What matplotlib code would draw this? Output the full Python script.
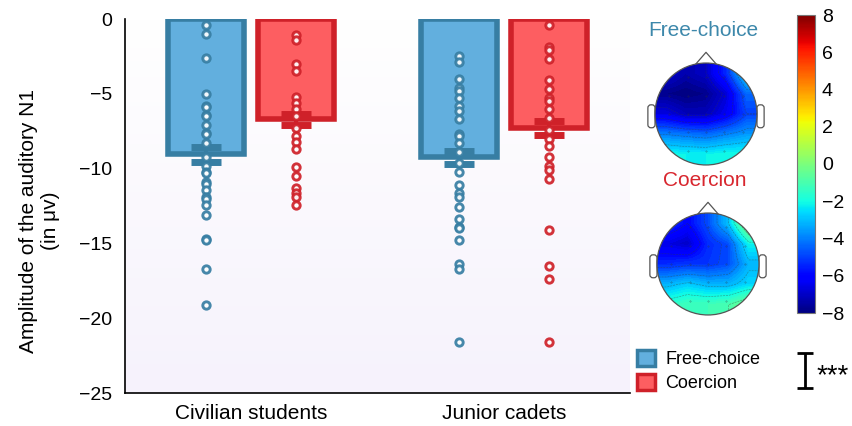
import numpy as np
import matplotlib
matplotlib.use("Agg")
import matplotlib.pyplot as plt
from matplotlib.patches import Rectangle, Circle, FancyBboxPatch
from matplotlib.lines import Line2D
from matplotlib.colors import LinearSegmentedColormap, Normalize
from matplotlib.cm import ScalarMappable

plt.rcParams['font.family'] = ['Liberation Sans', 'DejaVu Sans']

# ---- data -------------------------------------------------------------
groups = ["Civilian students", "Junior cadets"]
conditions = ["Free-choice", "Coercion"]

mean_free = [-9.05, -9.25]
mean_coercion = [-6.7, -7.3]
sem_free = [0.5, 0.45]
sem_coercion = [0.38, 0.48]

civ_free = [-0.4, -1.0, -2.6, -5.0, -5.8, -5.9, -6.4, -6.5, -7.1, -7.6, -7.7,
            -8.3, -9.2, -9.8, -10.2, -10.3, -10.9, -11.0, -11.4, -11.9, -12.05,
            -12.4, -13.1, -14.7, -14.8, -16.7, -19.1]
civ_coercion = [-1.1, -1.4, -3.0, -3.5, -5.2, -5.6, -6.0, -6.5, -7.3, -7.8,
                -8.2, -8.7, -9.9, -10.5, -11.3, -11.6, -11.9, -12.4]
jun_free = [-2.5, -2.9, -4.0, -4.6, -4.8, -5.3, -5.8, -6.15, -6.7, -7.7, -7.8,
            -8.3, -8.9, -9.6, -10.2, -11.1, -11.6, -11.9, -12.6, -13.4, -13.9,
            -14.0, -14.8, -16.4, -16.7, -21.6]
jun_coercion = [-0.4, -1.9, -2.1, -2.7, -4.1, -4.7, -5.3, -5.5, -6.0, -6.6,
                -7.4, -8.05, -8.5, -9.2, -9.8, -10.1, -10.7, -14.1, -16.5,
                -17.4, -21.6]

y_ticks = [0, -5, -10, -15, -20, -25]
cbar_ticks = [8, 6, 4, 2, 0, -2, -4, -6, -8]

# Scalp maps: estimated amplitudes on a 5x5 electrode grid
# rows from front (top) to back, columns left to right
elec_pos = [-0.8, -0.4, 0.0, 0.4, 0.8]
scalp_free = [[-6.8, -7.4, -7.0, -5.4, -2.4],
              [-7.8, -8.0, -7.8, -6.8, -4.4],
              [-6.6, -7.2, -7.2, -6.4, -5.0],
              [-4.0, -4.2, -4.4, -4.0, -3.6],
              [-2.0, -2.2, -2.2, -2.0, -2.0]]
scalp_coercion = [[-5.2, -6.0, -4.8, -3.0, 0.6],
                  [-6.6, -7.0, -5.4, -4.8, -2.2],
                  [-5.4, -5.2, -5.2, -4.8, -3.2],
                  [-3.2, -2.8, -3.2, -3.2, -2.6],
                  [-1.6, -1.2, -1.2, -1.0, -0.2]]

# ---- colours ----------------------------------------------------------
free_face, free_edge = "#62afde", "#377ea3"
coer_face, coer_edge = "#fd5e61", "#cf2129"

W, H = 853, 426
fig = plt.figure(figsize=(W / 100, H / 100), dpi=100)


def fx(px):
    return px / W


def fy(py):
    return 1 - py / H


ax = fig.add_axes([fx(125), fy(393), fx(630) - fx(125), fy(19) - fy(393)])
ax.set_xlim(-0.5, 1.5)
ax.set_ylim(-25, 0)

# soft lavender background gradient
bg = LinearSegmentedColormap.from_list("bg", ["#ffffff", "#f6f2fc"])
ax.imshow(np.linspace(0, 1, 256).reshape(-1, 1), extent=(-0.5, 1.5, -25, 0),
          aspect="auto", cmap=bg, zorder=0)

offset = 0.178
bar_w = 0.30
centers = np.arange(len(groups))

series = [
    (centers - offset, mean_free, sem_free, [civ_free, jun_free], free_face, free_edge),
    (centers + offset, mean_coercion, sem_coercion, [civ_coercion, jun_coercion], coer_face, coer_edge),
]

for xs, means, sems, points, face, edge in series:
    ax.bar(xs, means, width=bar_w, bottom=0, color=face, edgecolor=edge,
           linewidth=4, zorder=2)
    ax.errorbar(xs, means, yerr=sems, fmt="none", ecolor=edge, elinewidth=3,
                capsize=10.5, capthick=5, zorder=3)
    for x, vals in zip(xs, points):
        ax.plot(np.full(len(vals), x), vals, linestyle="none", marker="o",
                markersize=5.3, markerfacecolor="white", markeredgecolor=edge,
                markeredgewidth=2.1, alpha=0.92, zorder=4)

for side in ["top", "right"]:
    ax.spines[side].set_visible(False)
for side in ["left", "bottom"]:
    ax.spines[side].set_linewidth(1.2)
ax.set_yticks(y_ticks)
ax.set_xticks(centers)
ax.set_xticklabels(groups, fontsize=15)
ax.tick_params(axis="y", length=0, pad=9, labelsize=14)
ax.tick_params(axis="x", length=0, pad=8)
ax.set_ylabel("Amplitude of the auditory N1\n(in μv)", fontsize=15)
ax.yaxis.set_label_coords(-0.128, 0.46)

# ---- scalp maps -------------------------------------------------------
norm = Normalize(-8, 8)


def scalp_field(grid, n=301):
    g = np.array(grid, dtype=float)[::-1]  # bottom row first
    ys_e = np.array(elec_pos)
    xs_e = np.array(elec_pos)
    t = np.linspace(-1.3, 1.3, n)
    rows = np.array([np.interp(t, xs_e, r) for r in g])            # 5 x n
    field = np.array([np.interp(t, ys_e, rows[:, j]) for j in range(n)]).T
    return t, field


def draw_head(cx, cy, grid, title, tcolor):
    size = 130
    hax = fig.add_axes([fx(cx - size / 2), fy(cy + size / 2), size / W, size / H])
    lim = 1.275
    hax.set_xlim(-lim, lim)
    hax.set_ylim(-lim, lim)
    hax.set_aspect("equal")
    hax.axis("off")
    t, Z = scalp_field(grid)
    X, Y = np.meshgrid(t, t)
    clip = Circle((0, 0), 1.0, transform=hax.transData)
    cf = hax.contourf(X, Y, Z, levels=np.linspace(-8, 8, 81), cmap="jet", norm=norm)
    cf.set_clip_path(clip)
    cl = hax.contour(X, Y, Z, levels=np.arange(-8, 8.5, 1), colors="#333333",
                     linewidths=0.4, alpha=0.5)
    cl.set_clip_path(clip)
    ex, ey = np.meshgrid(np.linspace(-0.72, 0.72, 5), np.linspace(-0.72, 0.72, 5))
    inside = ex ** 2 + ey ** 2 < 0.8
    hax.plot(ex[inside], ey[inside], ".", color="#333333", markersize=0.6, alpha=0.6)
    hax.add_patch(Circle((0, 0), 1.0, fill=False, edgecolor="#555555", linewidth=0.9))
    hax.add_line(Line2D([-0.2, 0, 0.2], [0.98, 1.21, 0.98], color="#555555", linewidth=0.9))
    for s in (-1, 1):
        ear = FancyBboxPatch((1.0 if s > 0 else -1.14, -0.27), 0.14, 0.45,
                             boxstyle="round,pad=0,rounding_size=0.06",
                             fill=False, edgecolor="#555555", linewidth=0.9, zorder=0)
        hax.add_patch(ear)
    fig.text(fx(cx - 3), fy(cy - 84), title, color=tcolor, fontsize=15,
             ha="center", va="center")


draw_head(706, 114, scalp_free, "Free-choice", "#3d88ab")
draw_head(708, 264, scalp_coercion, "Coercion", "#d8262e")

# ---- colour bar -------------------------------------------------------
cax = fig.add_axes([fx(797), fy(313), 18 / W, 298 / H])
cb = fig.colorbar(ScalarMappable(norm=norm, cmap="jet"), cax=cax, ticks=cbar_ticks)
cb.outline.set_edgecolor("#777777")
cb.outline.set_linewidth(0.8)
cax.tick_params(length=0, labelsize=14, pad=5)

# ---- legend -----------------------------------------------------------
handles = [Rectangle((0, 0), 1, 1, facecolor=free_face, edgecolor=free_edge, linewidth=2.5),
           Rectangle((0, 0), 1, 1, facecolor=coer_face, edgecolor=coer_edge, linewidth=2.5)]
fig.legend(handles, conditions, loc="upper left", bbox_to_anchor=(fx(624), fy(337)),
           frameon=False, fontsize=13, handlelength=1.0, handleheight=1.0,
           handletextpad=0.6, labelspacing=0.35, borderpad=0.2)

# ---- significance marker ----------------------------------------------
for xs_, ys_ in [([805, 805], [353, 388]), ([797, 813], [353, 353]), ([797, 813], [388, 388])]:
    fig.add_artist(Line2D([fx(v) for v in xs_], [fy(v) for v in ys_], color="black",
                          linewidth=2.0, solid_capstyle="butt"))
fig.text(fx(817), fy(376), "***", fontsize=20, ha="left", va="center")

fig.savefig("out.png", dpi=100)
